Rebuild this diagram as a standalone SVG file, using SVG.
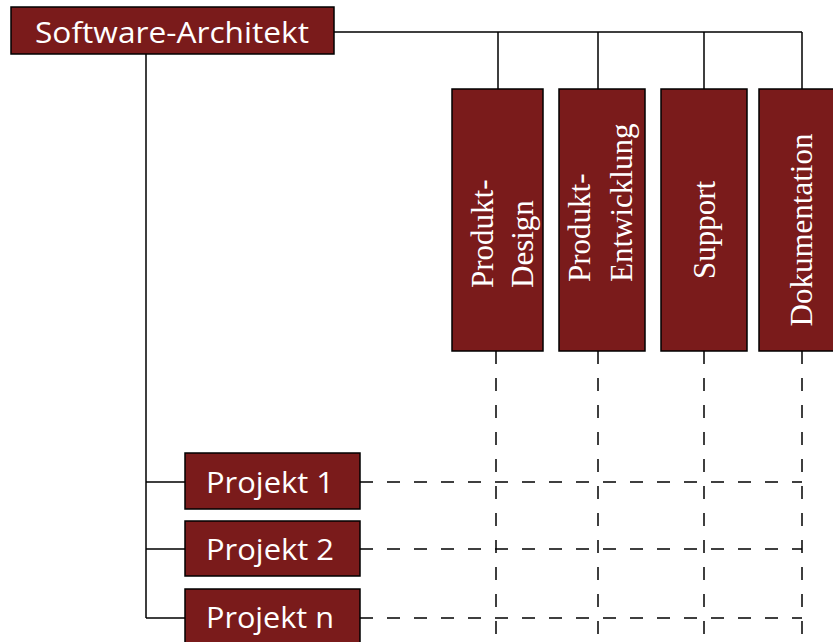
<svg xmlns="http://www.w3.org/2000/svg" width="833" height="642" viewBox="0 0 833 642">
<style>
.box{fill:#7a1b1b;stroke:#000;stroke-width:1.5}
.sans{font-family:"Open Sans","Liberation Sans",sans-serif;fill:#fff}
.serif{font-family:"Liberation Serif",serif;font-size:31px;fill:#fff}
.solid{stroke:#000;stroke-width:1.5;fill:none}
.dash{stroke:#000;stroke-width:1.5;fill:none;stroke-dasharray:13 14}
</style>
<rect width="833" height="642" fill="#fff"/>
<g id="connectors">
<path class="solid" d="M334 32H802M498 32V89M598 32V89M704 32V89M802 32V89"/>
<path class="solid" d="M146 54V618M146 482H185M146 549H185M146 618H185"/>
<path class="dash" d="M360 482H802M360 549H802M360 618H802"/>
<path class="dash" d="M496 351V642M598 351V642M704 351V642M802 351V642"/>
</g>
<g id="software-architekt">
<rect class="box" x="11" y="7" width="323" height="47"/>
<text class="sans" x="172" y="43" font-size="30" text-anchor="middle" textLength="274" lengthAdjust="spacingAndGlyphs">Software-Architekt</text>
</g>
<g id="produkt-design">
<rect class="box" x="452" y="89" width="91" height="262"/>
<text class="serif" transform="translate(493,288) rotate(-90)">Produkt-</text>
<text class="serif" transform="translate(533,288) rotate(-90)">Design</text>
</g>
<g id="produkt-entwicklung">
<rect class="box" x="559" y="89" width="86" height="262"/>
<text class="serif" transform="translate(590,282) rotate(-90)">Produkt-</text>
<text class="serif" transform="translate(632,282) rotate(-90)">Entwicklung</text>
</g>
<g id="support">
<rect class="box" x="661" y="89" width="86" height="262"/>
<text class="serif" transform="translate(715,230) rotate(-90)" text-anchor="middle">Support</text>
</g>
<g id="dokumentation">
<rect class="box" x="759" y="89" width="88" height="262"/>
<text class="serif" transform="translate(812,230) rotate(-90)" text-anchor="middle">Dokumentation</text>
</g>
<g id="projekt-1">
<rect class="box" x="185" y="453" width="175" height="56"/>
<text class="sans" x="270" y="493" font-size="29" text-anchor="middle" textLength="128" lengthAdjust="spacingAndGlyphs">Projekt 1</text>
</g>
<g id="projekt-2">
<rect class="box" x="185" y="521" width="175" height="55"/>
<text class="sans" x="270" y="560" font-size="29" text-anchor="middle" textLength="128" lengthAdjust="spacingAndGlyphs">Projekt 2</text>
</g>
<g id="projekt-n">
<rect class="box" x="185" y="589" width="175" height="56"/>
<text class="sans" x="270" y="628" font-size="29" text-anchor="middle" textLength="128" lengthAdjust="spacingAndGlyphs">Projekt n</text>
</g>
</svg>
